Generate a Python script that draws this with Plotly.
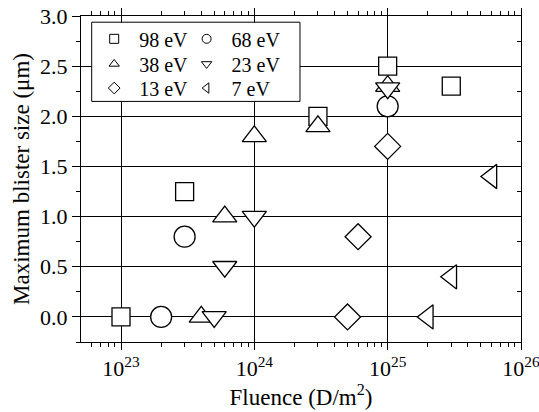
import plotly.graph_objects as go

# ---- data ----
labels = ["98 eV", "68 eV", "38 eV", "23 eV", "13 eV", "7 eV"]
x98 = [1e23, 3e23, 3e24, 1e25, 3e25]
y98 = [0.0, 1.25, 2.0, 2.5, 2.3]
x68 = [2e23, 3e23, 1e25]
y68 = [0.0, 0.8, 2.1]
x38 = [4e23, 6e23, 1e24, 3e24, 1e25]
y38 = [0.0, 1.0, 1.8, 1.9, 2.3]
x23 = [5e23, 6e23, 1e24, 1e25]
y23 = [0.0, 0.5, 1.0, 2.28]
x13 = [5e24, 6e24, 1e25]
y13 = [0.0, 0.8, 1.7]
x7 = [2e25, 3e25, 6e25]
y7 = [0.0, 0.4, 1.4]
x_tickvals = [1e23, 1e24, 1e25, 1e26]
x_ticktext = ["10<sup>23</sup>", "10<sup>24</sup>", "10<sup>25</sup>", "10<sup>26</sup>"]
x_minor_mult = [2, 3, 4, 5, 6, 7, 8, 9]
x_minor_exp = [22, 23, 24, 25]

x_minor = [m * 10.0 ** e for e in x_minor_exp for m in x_minor_mult]

series = [
    (labels[0], x98, y98, "square", 18),
    (labels[1], x68, y68, "circle", 21),
    (labels[2], x38, y38, "triangle-up", 21),
    (labels[3], x23, y23, "triangle-down", 21),
    (labels[4], x13, y13, "diamond", 20),
    (labels[5], x7, y7, "triangle-left", 21),
]

FONT = "Liberation Serif"

fig = go.Figure()
for name, xs, ys, sym, sz in series:
    fig.add_trace(go.Scatter(
        x=xs, y=ys, mode="markers", name=name, showlegend=False,
        marker=dict(symbol=sym, size=sz, color="white",
                    line=dict(color="black", width=1.3)),
    ))

# legend entries: one small legend per entry (2 columns x 3 rows)
col_x = [0.030, 0.240]
row_y = [0.930, 0.853, 0.779]
legends = {}
for i, (name, xs, ys, sym, sz) in enumerate(series):
    key = "legend" if i == 0 else f"legend{i + 1}"
    fig.add_trace(go.Scatter(
        x=[None], y=[None], mode="markers", name="\u00a0" + name,
        legend=key,
        marker=dict(symbol=sym, size=9, color="white",
                    line=dict(color="black", width=1)),
    ))
    legends[key] = dict(
        x=col_x[i % 2], y=row_y[i // 2], xanchor="left", yanchor="middle",
        bgcolor="rgba(0,0,0,0)", borderwidth=0,
        font=dict(family=FONT, size=20, color="black"),
    )

# dummy trace on right axis for inside ticks
fig.add_trace(go.Scatter(x=[None], y=[None], yaxis="y2", showlegend=False))

axis_font = dict(family=FONT, size=22, color="black")
title_font = dict(family=FONT, size=23, color="black")

fig.update_layout(
    template=None,
    width=539, height=412,
    margin=dict(l=81, r=18, t=16, b=70),
    paper_bgcolor="white", plot_bgcolor="white",
    font=dict(family=FONT, size=21, color="black"),
    xaxis=dict(
        type="log", range=[22.7, 26], automargin=False,
        tickvals=x_tickvals, ticktext=x_ticktext, ticklabeloverflow="allow",
        ticks="outside", ticklen=7, tickwidth=1, tickcolor="black",
        minor=dict(tickvals=x_minor, ticks="outside", ticklen=4, tickwidth=1,
                   tickcolor="black", showgrid=False),
        showgrid=True, gridcolor="black", gridwidth=1,
        showline=True, linecolor="black", linewidth=1, mirror="ticks",
        tickfont=axis_font,
        title=dict(text="Fluence (D/m<sup>2</sup>)", font=title_font, standoff=6),
        zeroline=False,
    ),
    yaxis=dict(
        range=[-0.25, 3.0], dtick=0.5, tick0=0, tickformat=".1f", automargin=False,
        ticks="outside", ticklen=8, tickwidth=1, tickcolor="black",
        minor=dict(dtick=0.25, ticks="outside", ticklen=4, tickwidth=1, tickcolor="black", showgrid=False),
        showgrid=True, gridcolor="black", gridwidth=1,
        showline=True, linecolor="black", linewidth=1, mirror=True,
        zeroline=True, zerolinecolor="black", zerolinewidth=1,
        tickfont=axis_font,
        title=dict(text="Maximum blister size (μm)", font=title_font, standoff=4),
    ),
    yaxis2=dict(
        overlaying="y", side="right", matches="y", range=[-0.25, 3.0], automargin=False,
        dtick=0.5, tick0=0, showticklabels=False,
        ticks="inside", ticklen=6, tickwidth=1, tickcolor="black",
        minor=dict(dtick=0.25, ticks="inside", ticklen=4, tickwidth=1, tickcolor="black"),
        showgrid=False, zeroline=False, showline=False,
    ),
    shapes=[dict(
        type="rect", xref="paper", yref="paper",
        x0=0.0243, x1=0.4977, y0=0.738, y1=0.981,
        fillcolor="white", line=dict(color="black", width=1), layer="above",
    )],
    **legends,
)

fig.write_html("out.html")
